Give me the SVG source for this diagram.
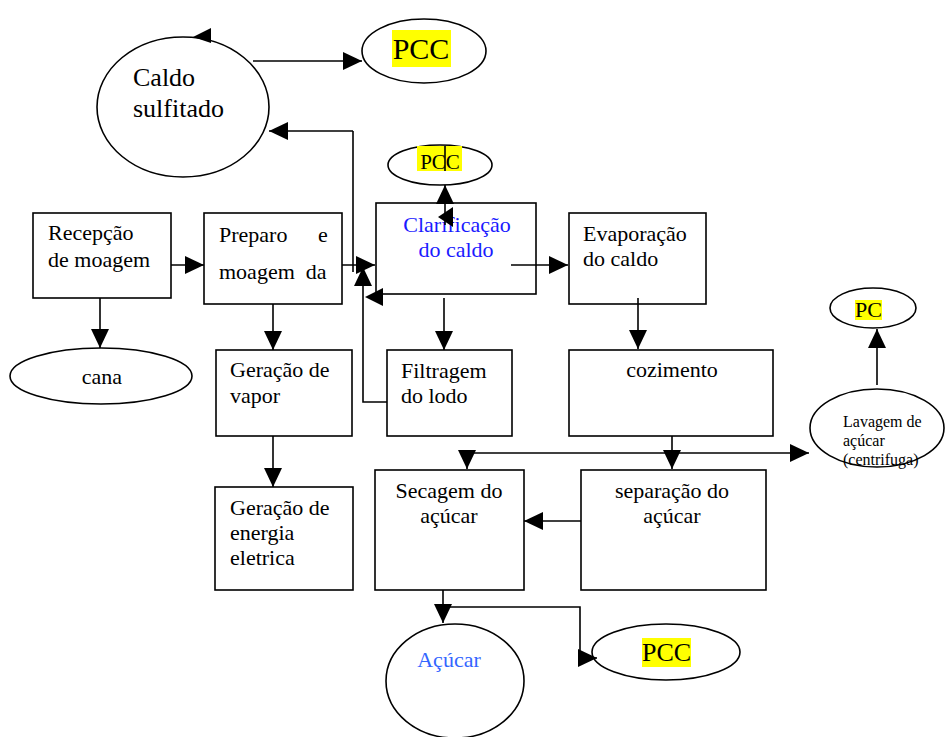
<svg xmlns="http://www.w3.org/2000/svg" width="946" height="737" viewBox="0 0 946 737">
<style>
.s{fill:none;stroke:#000;stroke-width:1.6}
.n{fill:#fff;stroke:#000;stroke-width:1.6}
.t{font-family:'Liberation Serif','Times New Roman',Times,serif;font-size:22px;fill:#000}
.c{text-anchor:middle}
.hl{fill:#ffff00}
.ar{fill:#000}
</style>
<defs>
<marker id="a" markerUnits="userSpaceOnUse" markerWidth="20" markerHeight="20" refX="19" refY="9" orient="auto">
<path d="M0,0 L19,9 L0,18 z" fill="#000"/>
</marker>
</defs>
<rect width="946" height="737" fill="#fff"/>

<g id="caldo-sulfitado">
<ellipse class="n" cx="183" cy="107" rx="86" ry="70"/>
<text class="t" font-family="Liberation Serif, serif" style="font-size:26px" x="133" y="86">Caldo</text>
<text class="t" style="font-size:26px" x="133" y="117">sulfitado</text>
</g>
<g id="pcc-top">
<ellipse class="n" cx="424" cy="51" rx="62" ry="32"/>
<rect class="hl" x="392" y="30" width="59" height="37"/>
<text class="t c" style="font-size:30px" x="421" y="59">PCC</text>
</g>
<g id="pcc-clar">
<ellipse class="n" cx="440" cy="165" rx="52" ry="20"/>
<rect class="hl" x="417" y="146" width="45" height="25"/>
<text class="t c" style="font-size:21px" x="440" y="169">PCC</text>
</g>
<g id="recepcao">
<rect class="n" x="33" y="213" width="138" height="85"/>
<text class="t" x="48" y="240">Recepção</text>
<text class="t" x="48" y="267">de moagem</text>
</g>
<g id="cana">
<ellipse class="n" cx="101" cy="376" rx="91" ry="28"/>
<text class="t c" x="102" y="384">cana</text>
</g>
<g id="preparo">
<rect class="n" x="204" y="213" width="138" height="91"/>
<text class="t" x="219" y="242">Preparo</text>
<text class="t" x="318" y="242">e</text>
<text class="t" x="219" y="279" xml:space="preserve">moagem  da</text>
</g>
<g id="clarificacao">
<rect class="n" x="376" y="203" width="160" height="91"/>
<text class="t c" style="fill:#1a1aff" x="457" y="232">Clarificação</text>
<text class="t c" style="fill:#1a1aff" x="456" y="257">do caldo</text>
</g>
<g id="evaporacao">
<rect class="n" x="569" y="213" width="137" height="91"/>
<text class="t" x="583" y="241">Evaporação</text>
<text class="t" x="583" y="266">do caldo</text>
</g>
<g id="geracao-vapor">
<rect class="n" x="216" y="350" width="136" height="86"/>
<text class="t" x="230" y="377">Geração de</text>
<text class="t" x="230" y="403">vapor</text>
</g>
<g id="geracao-energia">
<rect class="n" x="215" y="487" width="138" height="103"/>
<text class="t" x="230" y="515">Geração de</text>
<text class="t" x="230" y="540">energia</text>
<text class="t" x="230" y="565">eletrica</text>
</g>
<g id="filtragem">
<rect class="n" x="387" y="350" width="125" height="86"/>
<text class="t" x="401" y="378">Filtragem</text>
<text class="t" x="401" y="403">do lodo</text>
</g>
<g id="cozimento">
<rect class="n" x="569" y="350" width="204" height="86"/>
<text class="t c" x="672" y="377">cozimento</text>
</g>
<g id="lavagem">
<ellipse class="n" cx="877" cy="428" rx="67" ry="39"/>
<text class="t" style="font-size:16px" x="843" y="427">Lavagem de</text>
<text class="t" style="font-size:16px" x="843" y="446">açúcar</text>
<text class="t" style="font-size:16px" x="843" y="465">(centrifuga)</text>
</g>
<g id="pc">
<ellipse class="n" cx="873" cy="308" rx="43" ry="20"/>
<rect class="hl" x="855" y="300" width="27" height="20"/>
<text class="t c" x="868.5" y="317">PC</text>
</g>
<g id="secagem">
<rect class="n" x="375" y="470" width="149" height="120"/>
<text class="t c" x="449" y="498">Secagem do</text>
<text class="t c" x="449" y="523">açúcar</text>
</g>
<g id="separacao">
<rect class="n" x="581" y="470" width="185" height="120"/>
<text class="t c" x="672" y="498">separação do</text>
<text class="t c" x="672" y="523">açúcar</text>
</g>
<g id="acucar">
<ellipse class="n" cx="455" cy="681" rx="69" ry="57"/>
<text class="t c" style="fill:#3366ff" x="449" y="667">Açúcar</text>
</g>
<g id="pcc-bottom">
<ellipse class="n" cx="666" cy="652" rx="74" ry="28"/>
<rect class="hl" x="642" y="638" width="49" height="29"/>
<text class="t c" style="font-size:26px" x="666.5" y="661">PCC</text>
</g>

<g id="connectors">
<line class="s" x1="171" y1="265" x2="204" y2="265" marker-end="url(#a)"/>
<line class="s" x1="100" y1="298" x2="100" y2="348" marker-end="url(#a)"/>
<line class="s" x1="342" y1="265" x2="375" y2="265" marker-end="url(#a)"/>
<line class="s" x1="353" y1="131" x2="353" y2="272"/>
<line class="s" x1="353" y1="131" x2="269" y2="131" marker-end="url(#a)"/>
<line class="s" x1="253" y1="61" x2="362" y2="61" marker-end="url(#a)"/>
<polygon class="ar" points="193,37 211,28 211,43"/>
<line class="s" x1="445" y1="225" x2="445" y2="185" marker-end="url(#a)"/>
<line class="s" x1="445" y1="146" x2="445" y2="171"/>
<polygon class="ar" points="438,217 453,207 453,227"/>
<line class="s" x1="511" y1="265" x2="568" y2="265" marker-end="url(#a)"/>
<polygon class="ar" points="365,297 383,288 383,306"/>
<polyline class="s" points="387,402 363,402 363,267" marker-end="url(#a)"/>
<line class="s" x1="444" y1="298" x2="444" y2="350" marker-end="url(#a)"/>
<line class="s" x1="273" y1="304" x2="273" y2="350" marker-end="url(#a)"/>
<line class="s" x1="273" y1="436" x2="273" y2="487" marker-end="url(#a)"/>
<line class="s" x1="638" y1="298" x2="638" y2="349" marker-end="url(#a)"/>
<line class="s" x1="672" y1="436" x2="672" y2="469" marker-end="url(#a)"/>
<line class="s" x1="467" y1="453" x2="809" y2="453" marker-end="url(#a)"/>
<line class="s" x1="467" y1="453" x2="467" y2="469" marker-end="url(#a)"/>
<line class="s" x1="581" y1="521" x2="524" y2="521" marker-end="url(#a)"/>
<line class="s" x1="443" y1="590" x2="443" y2="623" marker-end="url(#a)"/>
<polyline class="s" points="443,607 580,607 580,658 597,658" marker-end="url(#a)"/>
<line class="s" x1="877" y1="385" x2="877" y2="329" marker-end="url(#a)"/>
</g>
</svg>
